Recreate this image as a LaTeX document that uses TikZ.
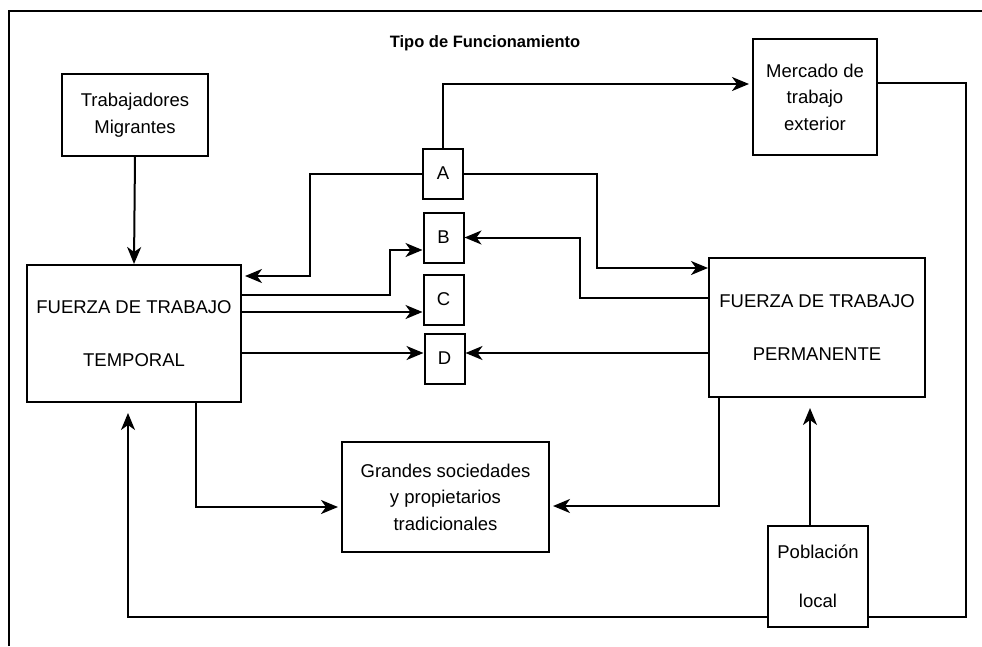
\documentclass[tikz,border=0pt]{standalone}
\usepackage{fontspec}
\setmainfont{Liberation Sans}
\usetikzlibrary{arrows.meta}
\begin{document}
\begin{tikzpicture}[x=1pt,y=-1pt,
  line width=2pt,
  box/.style={draw,rectangle,fill=white,inner sep=0pt,align=center,
    font=\fontsize{18.5}{26.5}\selectfont},
  letterbox/.style={box,minimum width=40pt,minimum height=50pt},
  arr/.style={-{Stealth[length=17pt,width=14pt,inset=5pt]}}]
\useasboundingbox (0,0) rectangle (982,646);
% outer frame (left and top edges)
\draw[line width=2.4pt] (9,646) -- (9,11) -- (982,11);
% title
\node[font=\bfseries\fontsize{16.5}{19}\selectfont] (title) at (485,43) {Tipo de Funcionamiento};
% boxes
\node[box,minimum width=146pt,minimum height=82pt] (mig) at (135,115)
  {Trabajadores\\Migrantes};
\node[box,minimum width=214pt,minimum height=137pt] (temp) at (134,333.5)
  {FUERZA DE TRABAJO\\[26.5pt]TEMPORAL};
\node[box,minimum width=216pt,minimum height=139pt] (perm) at (817,327.5)
  {FUERZA DE TRABAJO\\[26.5pt]PERMANENTE};
\node[box,minimum width=124pt,minimum height=116pt] (merc) at (815,97)
  {Mercado de\\trabajo\\exterior};
\node[box,minimum width=207pt,minimum height=110pt] (gran) at (445.5,497)
  {Grandes sociedades\\y propietarios\\tradicionales};
\node[letterbox] (A) at (443,173.5) {A};
\node[letterbox] (B) at (443.5,237.5) {B};
\node[letterbox] (C) at (443.5,299.5) {C};
\node[letterbox] (D) at (444.5,358.5) {D};
% connectors
\draw[arr] (mig.south) -- (temp.north);
\draw[arr,shorten >=3pt] (A.north) |- ([yshift=13pt]merc.west);
\draw[arr,shorten >=3pt] (A.west) -| (310,276) -- (temp.east |- 0,276);
\draw[arr] (A.east) -| (597,268) -- (perm.west |- 0,268);
\draw[arr] (perm.west |- 0,298) -| (580,237.5) -- (B.east);
\draw[arr] (temp.east |- 0,295) -| (390,250) -- (B.west |- 0,250);
\draw[arr] (temp.east |- 0,312) -- (C.west |- 0,312);
\draw[arr] (temp.east |- 0,353) -- (D.west |- 0,353);
\draw[arr] (perm.west |- 0,353) -- (D.east |- 0,353);
\draw[arr,shorten >=3pt] (temp.south -| 196,0) |- (gran.west |- 0,507);
\draw[arr,shorten >=3pt] (perm.south -| 719,0) |- (gran.east |- 0,506);
\draw[arr,shorten >=10pt] ([yshift=14pt]merc.east) -| (966,617) -| (temp.south -| 128,0);
% local population box sits on top of the return line
\node[box,minimum width=100pt,minimum height=101pt] (pob) at (818,576.5)
  {Población\\[22.5pt]local};
\draw[arr,shorten >=10pt] (pob.north -| 810,0) -- (perm.south -| 810,0);
\end{tikzpicture}
\end{document}
